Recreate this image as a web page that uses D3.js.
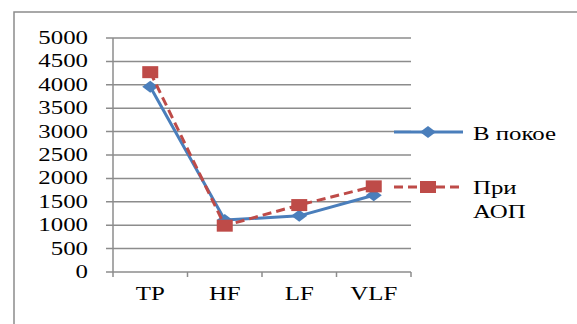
<html>
<head>
<script src="https://cdn.jsdelivr.net/npm/d3@7/dist/d3.min.js"></script>
<style>
  body { margin: 0; background: #fff; }
  .t { font-family: 'Liberation Serif', 'DejaVu Serif', serif; font-size: 18px; fill: #000; }
</style>
</head>
<body>
<div id="chart"></div>
<script>
// chart data
const categories = ["TP", "HF", "LF", "VLF"];
const restValues = [3960, 1110, 1200, 1640];   // В покое
const aopValues = [4270, 990, 1430, 1830];     // При АОП
const yTicks = [0, 500, 1000, 1500, 2000, 2500, 3000, 3500, 4000, 4500, 5000];
const seriesNames = ["В покое", "При АОП"];

const W = 577, H = 324;
const sx = 1.38; // text is stretched horizontally in the picture
const gridColor = "#8c8c8c";
const blue = "#4a7ebb", red = "#be4b48";

const svg = d3.select("#chart").append("svg")
  .attr("width", W).attr("height", H);

// outer chart border (only top and left visible)
svg.append("path")
  .attr("d", "M14," + H + " L14,12 L" + W + ",12")
  .attr("fill", "none").attr("stroke", gridColor).attr("stroke-width", 1.5);

const x = d3.scaleBand().domain(categories).range([113, 411]).padding(0);
const y = d3.scaleLinear().domain([0, 5000]).range([272, 38]);

// gridlines
svg.append("g").selectAll("line")
  .data(yTicks).enter().append("line")
  .attr("x1", 106).attr("x2", 411)
  .attr("y1", d => y(d)).attr("y2", d => y(d))
  .attr("stroke", gridColor).attr("stroke-width", 1.5);

// y axis line
svg.append("line")
  .attr("x1", 113).attr("x2", 113).attr("y1", y(5000)).attr("y2", 277)
  .attr("stroke", gridColor).attr("stroke-width", 1.5);

// x ticks at band edges
const edges = categories.map(c => x(c)).concat([x.range()[1]]);
svg.append("g").selectAll("line")
  .data(edges.slice(1)).enter().append("line")
  .attr("x1", d => d).attr("x2", d => d)
  .attr("y1", 272).attr("y2", 277)
  .attr("stroke", gridColor).attr("stroke-width", 1.5);

// y labels
svg.append("g").selectAll("text")
  .data(yTicks).enter().append("text")
  .attr("class", "t")
  .attr("transform", d => "translate(88," + (y(d) + 6) + ") scale(" + sx + ",1)")
  .attr("text-anchor", "end")
  .text(d => d);

// x labels
svg.append("g").selectAll("text")
  .data(categories).enter().append("text")
  .attr("class", "t")
  .attr("transform", d => "translate(" + (x(d) + x.bandwidth() / 2) + ",300) scale(" + sx + ",1)")
  .attr("text-anchor", "middle")
  .text(d => d);

const line = d3.line()
  .x((d, i) => x(categories[i]) + x.bandwidth() / 2)
  .y(d => y(d));

const diamond = "M0,-6 L8,0 L0,6 L-8,0Z";

// series 1: В покое
svg.append("path").datum(restValues)
  .attr("d", line).attr("fill", "none")
  .attr("stroke", blue).attr("stroke-width", 3).attr("stroke-linejoin", "round");
svg.append("g").selectAll("path")
  .data(restValues).enter().append("path")
  .attr("d", diamond)
  .attr("transform", (d, i) => "translate(" + (x(categories[i]) + x.bandwidth() / 2) + "," + y(d) + ")")
  .attr("fill", blue);

// series 2: При АОП
svg.append("path").datum(aopValues)
  .attr("d", line).attr("fill", "none")
  .attr("stroke", red).attr("stroke-width", 3).attr("stroke-dasharray", "9,5");
svg.append("g").selectAll("rect")
  .data(aopValues).enter().append("rect")
  .attr("x", (d, i) => x(categories[i]) + x.bandwidth() / 2 - 8)
  .attr("y", d => y(d) - 6)
  .attr("width", 16).attr("height", 12)
  .attr("fill", red);

// legend
const lg = svg.append("g");
lg.append("line").attr("x1", 394).attr("x2", 463).attr("y1", 132).attr("y2", 132)
  .attr("stroke", blue).attr("stroke-width", 3);
lg.append("path").attr("d", diamond).attr("transform", "translate(428,132)").attr("fill", blue);
lg.append("text").attr("class", "t").attr("transform", "translate(473,140) scale(" + sx + ",1)").text(seriesNames[0]);

lg.append("line").attr("x1", 394).attr("x2", 463).attr("y1", 187).attr("y2", 187)
  .attr("stroke", red).attr("stroke-width", 3).attr("stroke-dasharray", "9,5");
lg.append("rect").attr("x", 420).attr("y", 181).attr("width", 16).attr("height", 12).attr("fill", red);
const words = seriesNames[1].split(" ");
lg.append("text").attr("class", "t").attr("transform", "translate(473,194) scale(" + sx + ",1)").text(words[0]);
lg.append("text").attr("class", "t").attr("transform", "translate(473,218) scale(" + sx + ",1)").text(words[1]);
</script>
</body>
</html>
